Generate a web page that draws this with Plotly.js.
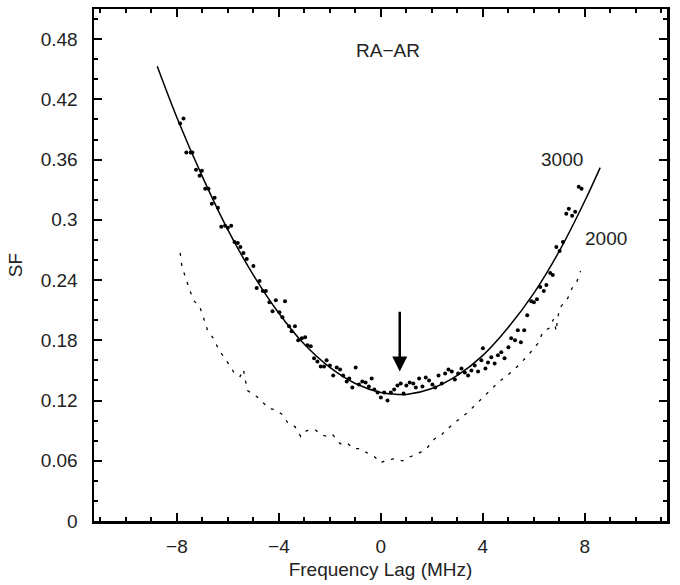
<!DOCTYPE html>
<html>
<head>
<meta charset="utf-8">
<script src="https://cdn.plot.ly/plotly-3.0.1.min.js"></script>
<style>html,body{margin:0;padding:0;background:#fff;}#chart{width:680px;height:585px;}</style>
</head>
<body>
<div id="chart"></div>
<script>
// Measured points for lag series "3000"
const ptsX = [-7.87,-7.74,-7.63,-7.46,-7.39,-7.25,-7.11,-7.02,-6.89,-6.76,-6.63,-6.52,-6.39,-6.26,-6.11,-6.00,-5.87,-5.74,-5.61,-5.51,-5.39,-5.26,-5.00,-4.87,-4.76,-4.63,-4.51,-4.37,-4.25,-4.12,-3.98,-3.86,-3.76,-3.60,-3.50,-3.37,-3.24,-3.10,-2.97,-2.88,-2.75,-2.62,-2.49,-2.36,-2.23,-2.13,-2.00,-1.87,-1.73,-1.60,-1.48,-1.34,-1.24,-1.12,-0.99,-0.86,-0.73,-0.60,-0.47,-0.36,-0.26,-0.13,0.00,0.13,0.26,0.39,0.52,0.65,0.78,0.89,1.00,1.13,1.27,1.37,1.50,1.63,1.76,1.89,2.02,2.13,2.26,2.39,2.52,2.65,2.78,2.90,3.03,3.16,3.29,3.42,3.55,3.68,3.81,3.94,4.00,4.10,4.20,4.33,4.46,4.59,4.72,4.85,5.00,5.11,5.26,5.37,5.49,5.62,5.74,5.90,6.00,6.12,6.25,6.39,6.49,6.64,6.74,6.88,7.01,7.14,7.27,7.37,7.50,7.62,7.76,7.87];
const ptsY = [0.396,0.401,0.367,0.367,0.367,0.350,0.344,0.349,0.331,0.331,0.316,0.322,0.312,0.293,0.294,0.292,0.294,0.278,0.277,0.273,0.267,0.261,0.254,0.232,0.239,0.229,0.229,0.218,0.209,0.220,0.208,0.203,0.219,0.194,0.189,0.194,0.180,0.182,0.183,0.175,0.174,0.162,0.159,0.154,0.154,0.160,0.155,0.145,0.153,0.151,0.145,0.139,0.142,0.133,0.153,0.136,0.139,0.138,0.134,0.142,0.131,0.128,0.123,0.128,0.120,0.128,0.131,0.135,0.137,0.127,0.135,0.138,0.137,0.133,0.142,0.134,0.143,0.140,0.136,0.133,0.145,0.137,0.147,0.151,0.149,0.141,0.147,0.152,0.148,0.145,0.150,0.155,0.149,0.160,0.172,0.152,0.158,0.163,0.157,0.165,0.168,0.162,0.173,0.182,0.180,0.190,0.178,0.190,0.205,0.219,0.218,0.221,0.233,0.229,0.235,0.247,0.245,0.273,0.269,0.278,0.306,0.311,0.304,0.308,0.333,0.331];

// Fitted curve
const fitX = [-8.77,-8,-7,-6,-5,-4,-3,-2,-1,0,0.72,1,2,3,4,5,6,7,8,8.6];
const fitY = [0.453,0.402,0.343,0.290,0.245,0.207,0.176,0.153,0.137,0.128,0.126,0.126,0.132,0.145,0.165,0.193,0.227,0.269,0.319,0.352];

// Lag series "2000" (dashed)
const dashX = [-7.87,-7.80,-7.64,-7.50,-7.32,-7.11,-6.95,-6.80,-6.54,-6.35,-6.11,-5.91,-5.71,-5.52,-5.39,-5.32,-5.23,-4.87,-4.61,-4.38,-4.15,-3.86,-3.63,-3.37,-3.14,-2.91,-2.58,-2.35,-2.06,-1.89,-1.60,-1.34,-1.06,-0.82,-0.55,-0.25,0.00,0.25,0.55,0.85,1.15,1.45,1.79,2.11,2.31,2.57,3.00,3.40,3.80,4.20,4.60,5.00,5.40,5.80,6.16,6.35,6.59,6.77,6.88,6.92,7.01,7.33,7.50,7.68,7.83];
const dashY = [0.267,0.253,0.241,0.230,0.219,0.214,0.202,0.190,0.181,0.170,0.162,0.154,0.146,0.144,0.151,0.141,0.130,0.124,0.118,0.112,0.111,0.106,0.097,0.094,0.084,0.090,0.091,0.086,0.084,0.086,0.077,0.078,0.072,0.072,0.068,0.064,0.058,0.061,0.062,0.060,0.064,0.067,0.072,0.082,0.084,0.091,0.100,0.108,0.118,0.128,0.138,0.146,0.155,0.166,0.177,0.188,0.192,0.201,0.189,0.200,0.212,0.222,0.232,0.238,0.249];

const xTickVals = [-8,-4,0,4,8];
const xTickText = ['\u22128','\u22124','0','4','8'];
const yTickVals = [0,0.06,0.12,0.18,0.24,0.30,0.36,0.42,0.48];
const yTickText = ['0','0.06','0.12','0.18','0.24','0.3','0.36','0.42','0.48'];

const FONT = 'Liberation Sans, Arial, Helvetica, sans-serif';
const TXT = '#222';
const FS = 19;

const traces = [
  {x: dashX, y: dashY, mode: 'lines', type: 'scatter',
   line: {color: '#000', width: 1.3, dash: '3px,7px'}, hoverinfo: 'skip'},
  {x: fitX, y: fitY, mode: 'lines', type: 'scatter',
   line: {color: '#000', width: 1.5, shape: 'spline'}, hoverinfo: 'skip'},
  {x: ptsX, y: ptsY, mode: 'markers', type: 'scatter',
   marker: {color: '#000', size: 4}, hoverinfo: 'skip'}
];

const axisCommon = {
  showline: true, linecolor: '#000', linewidth: 2.5, mirror: 'allticks',
  ticks: 'inside', ticklen: 8, tickwidth: 2, tickcolor: '#000',
  showgrid: false, zeroline: false,
  tickfont: {family: FONT, size: FS, color: TXT}
};

const layout = {
  width: 680, height: 585,
  margin: {l: 94, r: 13, t: 9, b: 64},
  paper_bgcolor: '#fff', plot_bgcolor: '#fff',
  showlegend: false,
  xaxis: Object.assign({}, axisCommon, {
    range: [-11.25, 11.22],
    tickmode: 'array', tickvals: xTickVals, ticktext: xTickText,
    minor: {dtick: 1, tick0: 0, ticks: 'inside', ticklen: 4, tickwidth: 2, tickcolor: '#000', showgrid: false},
    ticklabelstandoff: 7,
    title: {text: 'Frequency Lag (MHz)', font: {family: FONT, size: FS, color: TXT}, standoff: 7}
  }),
  yaxis: Object.assign({}, axisCommon, {
    range: [0, 0.51],
    tickmode: 'array', tickvals: yTickVals, ticktext: yTickText,
    minor: {dtick: 0.02, tick0: 0, ticks: 'inside', ticklen: 4, tickwidth: 2, tickcolor: '#000', showgrid: false},
    ticklabelstandoff: 10,
    title: {text: 'SF', font: {family: FONT, size: FS, color: TXT}, standoff: 13}
  }),
  annotations: [
    {x: 0.27, y: 0.469, xref: 'x', yref: 'y', text: 'RA\u2212AR', showarrow: false,
     font: {family: FONT, size: FS, color: TXT}},
    {x: 7.11, y: 0.360, xref: 'x', yref: 'y', text: '3000', showarrow: false,
     font: {family: FONT, size: FS, color: TXT}},
    {x: 8.83, y: 0.281, xref: 'x', yref: 'y', text: '2000', showarrow: false,
     font: {family: FONT, size: FS, color: TXT}},
    {x: 0.74, y: 0.149, xref: 'x', yref: 'y', ax: 0.74, ay: 0.210, axref: 'x', ayref: 'y',
     text: '', showarrow: true, arrowhead: 2, arrowsize: 1.2, arrowwidth: 2.5, arrowcolor: '#000', standoff: 0}
  ]
};

Plotly.newPlot('chart', traces, layout, {displayModeBar: false, staticPlot: true});
</script>
</body>
</html>
